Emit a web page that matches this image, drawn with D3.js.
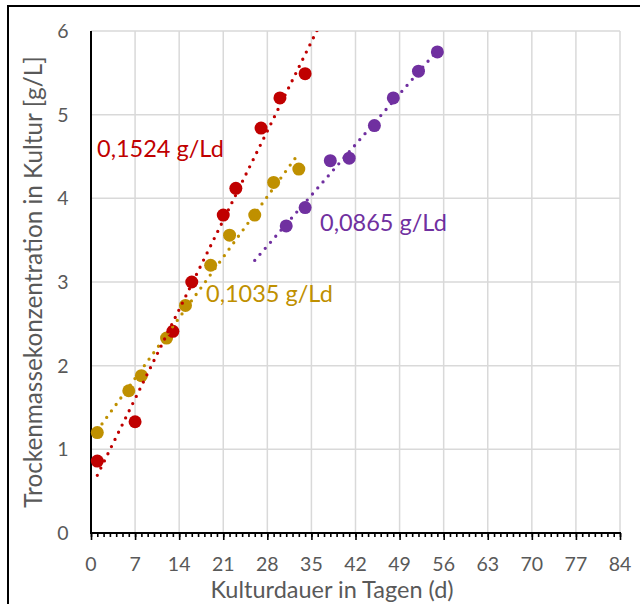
<!DOCTYPE html>
<html>
<head>
<meta charset="utf-8">
<script src="https://cdn.jsdelivr.net/npm/d3@7/dist/d3.min.js"></script>
<style>
  html, body { margin: 0; padding: 0; background: #fff; }
  svg { display: block; }
</style>
</head>
<body>
<svg id="chart" width="640" height="604"></svg>
<script>
// Dry biomass concentration over culture time, three cultures with linear trends
const redDays = [1, 7, 13, 16, 21, 23, 27, 30, 34];
const redVals = [0.86, 1.33, 2.41, 3.00, 3.80, 4.12, 4.84, 5.20, 5.49];
const goldDays = [1, 6, 8, 12, 15, 19, 22, 26, 29, 33];
const goldVals = [1.20, 1.70, 1.88, 2.33, 2.72, 3.20, 3.56, 3.80, 4.19, 4.35];
const purpleDays = [31, 34, 38, 41, 45, 48, 52, 55];
const purpleVals = [3.67, 3.89, 4.45, 4.48, 4.87, 5.20, 5.52, 5.75];

const slopes = { red: 0.1524, gold: 0.1035, purple: 0.0865 };
const slopeLabels = { red: "0,1524 g/Ld", gold: "0,1035 g/Ld", purple: "0,0865 g/Ld" };
// trend line extent in days (forecast forward / backward)
const trendRange = { red: [1, 36], gold: [1, 33], purple: [26, 55] };

const xTicks = [0, 7, 14, 21, 28, 35, 42, 49, 56, 63, 70, 77, 84];
const yTicks = [0, 1, 2, 3, 4, 5, 6];

const xTitle = "Kulturdauer in Tagen (d)";
const yTitle = "Trockenmassekonzentration in Kultur [g/L]";

const colors = { red: "#C00000", gold: "#BF9000", purple: "#7030A0" };
const gray = "#595959";
const font = "Lato, 'Open Sans', sans-serif";

const svg = d3.select("#chart");
const x = d3.scaleLinear().domain([0, 84]).range([91, 620]);
const y = d3.scaleLinear().domain([0, 6]).range([533, 31]);

// outer frame
svg.append("rect")
  .attr("x", 8).attr("y", 6).attr("width", 700).attr("height", 700)
  .attr("fill", "none").attr("stroke", "#000").attr("stroke-width", 2);

// grid
const grid = svg.append("g").attr("stroke", "#D9D9D9").attr("stroke-width", 1.5);
grid.selectAll("line.v").data(xTicks.filter(d => d > 0)).join("line")
  .attr("x1", d => x(d)).attr("x2", d => x(d))
  .attr("y1", y(0)).attr("y2", y(6));
grid.selectAll("line.h").data(yTicks.filter(d => d > 0)).join("line")
  .attr("x1", x(0)).attr("x2", x(84))
  .attr("y1", d => y(d)).attr("y2", d => y(d));

// x axis with daily minor ticks
const xAxisMinor = d3.axisBottom(x).tickValues(d3.range(0, 85, 1)).tickSize(4).tickFormat("");
const xAxisMajor = d3.axisBottom(x).tickValues(xTicks).tickSize(7).tickFormat("");
const gxMinor = svg.append("g").attr("transform", `translate(0,${y(0)})`).call(xAxisMinor);
const gxMajor = svg.append("g").attr("transform", `translate(0,${y(0)})`).call(xAxisMajor);
[gxMinor, gxMajor].forEach(g => {
  g.select(".domain").remove();
  g.selectAll(".tick line").attr("stroke", "#000").attr("stroke-width", 1.6);
});
svg.append("line")
  .attr("x1", x(0) - 1).attr("x2", x(84) + 1)
  .attr("y1", y(0)).attr("y2", y(0))
  .attr("stroke", "#000").attr("stroke-width", 2);
svg.append("line")
  .attr("x1", x(0)).attr("x2", x(0))
  .attr("y1", y(6)).attr("y2", y(0))
  .attr("stroke", "#000").attr("stroke-width", 2);

// tick labels
svg.append("g").selectAll("text").data(xTicks).join("text")
  .attr("x", d => x(d)).attr("y", 570.5)
  .attr("text-anchor", "middle")
  .attr("font-family", font).attr("font-size", 19.5).attr("fill", gray)
  .text(d => d);
svg.append("g").selectAll("text").data(yTicks).join("text")
  .attr("x", 68.5).attr("y", d => y(d) + 7)
  .attr("text-anchor", "end")
  .attr("font-family", font).attr("font-size", 19.5).attr("fill", gray)
  .text(d => d);

// axis titles
svg.append("text")
  .attr("x", 332).attr("y", 598)
  .attr("text-anchor", "middle")
  .attr("font-family", font).attr("font-size", 23.5).attr("fill", gray)
  .text(xTitle);
svg.append("text")
  .attr("transform", `translate(42,${(y(0) + y(6)) / 2}) rotate(-90)`)
  .attr("text-anchor", "middle")
  .attr("font-family", font).attr("font-size", 24.3).attr("fill", gray)
  .text(yTitle);

// clip region for trend lines
svg.append("clipPath").attr("id", "plotClip")
  .append("rect").attr("x", x(0)).attr("y", y(6)).attr("width", x(84) - x(0)).attr("height", y(0) - y(6));

const series = [
  { key: "gold", days: goldDays, vals: goldVals },
  { key: "red", days: redDays, vals: redVals },
  { key: "purple", days: purpleDays, vals: purpleVals }
];

// markers
series.forEach(s => {
  svg.append("g").selectAll("circle").data(s.days.map((d, i) => [d, s.vals[i]])).join("circle")
    .attr("cx", d => x(d[0])).attr("cy", d => y(d[1])).attr("r", 6.5)
    .attr("fill", colors[s.key]);
});

// linear trend lines through the series mean with the stated slope
const line = d3.line().x(d => x(d[0])).y(d => y(d[1]));
series.forEach(s => {
  const mx = d3.mean(s.days), my = d3.mean(s.vals);
  const k = slopes[s.key];
  const pts = trendRange[s.key].map(d => [d, my + k * (d - mx)]);
  svg.append("path")
    .attr("d", line(pts))
    .attr("clip-path", "url(#plotClip)")
    .attr("fill", "none").attr("stroke", colors[s.key])
    .attr("stroke-width", 3.3).attr("stroke-linecap", "round")
    .attr("stroke-dasharray", "0 8");
});

// slope labels
const labelPos = { red: [97, 156.5], gold: [206, 301.5], purple: [320, 230.5] };
series.forEach(s => {
  svg.append("text")
    .attr("x", labelPos[s.key][0]).attr("y", labelPos[s.key][1])
    .attr("font-family", font).attr("font-size", 23.5).attr("fill", colors[s.key])
    .text(slopeLabels[s.key]);
});
</script>
</body>
</html>
